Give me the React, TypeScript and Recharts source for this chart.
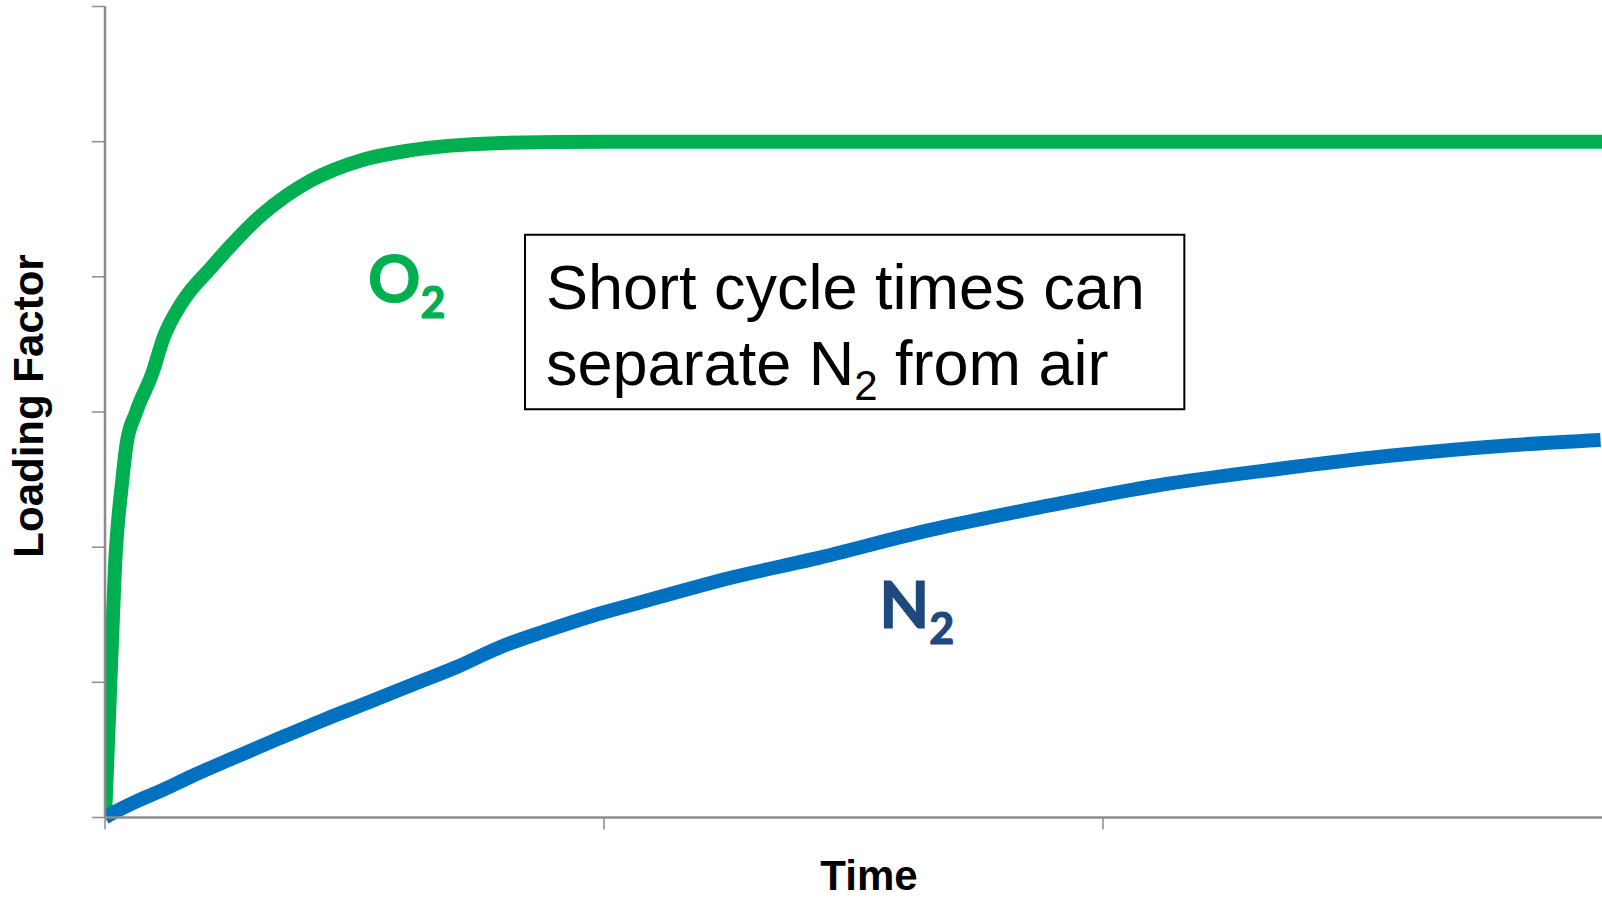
import React from 'react';
import { LineChart, Line, XAxis, YAxis, ReferenceArea, ReferenceDot } from 'recharts';

// O2 loading rises almost at once, then levels off
const o2Time = [0, 0.012, 0.02, 0.034, 0.0434, 0.0615, 0.0946, 0.118, 0.153, 0.2136, 0.3137, 0.4138, 0.514, 0.614, 0.781, 1.0, 2.0, 3.0];
const o2Loading = [0, 1.115, 1.855, 2.471, 2.767, 2.99, 3.285, 3.556, 3.803, 4.072, 4.457, 4.715, 4.863, 4.937, 4.989, 5.0, 5.0, 5.0];

// N2 loading climbs slowly
const n2Time = [0, 0.018, 0.063, 0.116, 0.17, 0.259, 0.349, 0.438, 0.527, 0.617, 0.706, 0.795, 0.885, 0.974, 1.063, 1.153, 1.242, 1.421, 1.652, 1.882, 2.113, 2.343, 2.574, 2.804, 2.997];
const n2Loading = [0, 0.038, 0.12, 0.204, 0.299, 0.443, 0.585, 0.722, 0.851, 0.984, 1.115, 1.265, 1.382, 1.489, 1.581, 1.674, 1.763, 1.913, 2.126, 2.301, 2.459, 2.575, 2.676, 2.751, 2.793];

const timeTicks = [0, 1, 2];
const loadingTicks = [0, 1, 2, 3, 4, 5, 6];

// annotation anchors, in data units
const noteTime = [0.8417, 2.163];
const noteLoading = [3.021, 4.312];
const o2LabelAt = { t: 0.527, v: 3.815 };
const n2LabelAt = { t: 1.5516, v: 1.399 };

const o2Data = o2Time.map((t, i) => ({ t, loading: o2Loading[i] }));
const n2Data = n2Time.map((t, i) => ({ t, loading: n2Loading[i] }));

const axisGray = '#8c8c8c';
const arial = '"Liberation Sans", Arial, sans-serif';
const calibri = 'Lato, "Open Sans", sans-serif';

// tick marks only, no tick text
const noTickText = () => <g />;

const gasLabel = (main: string, color: string) => (props: any) => {
  const { x, y } = props.viewBox;
  return (
    <text x={x} y={y} fill={color} stroke={color} strokeWidth={1.2}
      fontFamily={calibri} fontWeight={700} fontSize={65}>
      {main}
      <tspan fontSize={43} dy={16}>2</tspan>
    </text>
  );
};

const renderNote = (props: any) => {
  const { x, y } = props.viewBox;
  return (
    <text x={x + 21} y={y + 74} fill="#000" fontFamily={arial} fontSize={63}>
      <tspan x={x + 21} y={y + 74}>Short cycle times can</tspan>
      <tspan x={x + 21} y={y + 150.5}>separate N</tspan>
      <tspan fontSize={42} dy={15}>2</tspan>
      <tspan dy={-15}> from air</tspan>
    </text>
  );
};

const renderYTitle = (props: any) => {
  const { x, y, width, height } = props.viewBox;
  const cx = x + width - 62;
  const cy = y + height / 2 - 6;
  return (
    <text x={cx} y={cy} transform={`rotate(-90, ${cx}, ${cy})`} textAnchor="middle"
      fontFamily={arial} fontWeight={700} fontSize={42} fill="#000">
      Loading Factor
    </text>
  );
};

const renderXTitle = (props: any) => {
  const { x, y, width } = props.viewBox;
  return (
    <text x={x + width / 2 + 15.5} y={y + 72} textAnchor="middle"
      fontFamily={arial} fontWeight={700} fontSize={42} fill="#000">
      Time
    </text>
  );
};

export default function App() {
  return (
    <div style={{ position: 'absolute', left: 0, top: 0, width: 1602, height: 898, background: '#fff' }}>
      <LineChart width={1602} height={898} margin={{ top: 6.5, right: 0, left: 45, bottom: 0.5 }}>
        <XAxis
          type="number"
          dataKey="t"
          domain={[0, 3]}
          ticks={timeTicks}
          allowDataOverflow
          height={80}
          tick={noTickText}
          tickSize={12}
          axisLine={{ stroke: axisGray, strokeWidth: 2.5 }}
          tickLine={{ stroke: axisGray, strokeWidth: 1.5 }}
          label={renderXTitle}
        />
        <YAxis
          type="number"
          domain={[0, 6]}
          ticks={loadingTicks}
          width={60}
          tick={noTickText}
          tickSize={13}
          axisLine={{ stroke: axisGray, strokeWidth: 2.5 }}
          tickLine={{ stroke: axisGray, strokeWidth: 1.5 }}
          label={renderYTitle}
        />
        <Line
          data={o2Data}
          dataKey="loading"
          type="monotone"
          stroke="#00B050"
          strokeWidth={14}
          dot={false}
          activeDot={false}
          isAnimationActive={false}
        />
        <Line
          data={n2Data}
          dataKey="loading"
          type="monotone"
          stroke="#0070C0"
          strokeWidth={14}
          dot={false}
          activeDot={false}
          isAnimationActive={false}
        />
        <ReferenceArea
          x1={noteTime[0]}
          x2={noteTime[1]}
          y1={noteLoading[0]}
          y2={noteLoading[1]}
          fill="#fff"
          fillOpacity={1}
          stroke="#000"
          strokeWidth={2}
          label={renderNote}
        />
        <ReferenceDot x={o2LabelAt.t} y={o2LabelAt.v} r={0} fill="none" stroke="none" label={gasLabel('O', '#00B050')} />
        <ReferenceDot x={n2LabelAt.t} y={n2LabelAt.v} r={0} fill="none" stroke="none" label={gasLabel('N', '#1F497D')} />
      </LineChart>
    </div>
  );
}
